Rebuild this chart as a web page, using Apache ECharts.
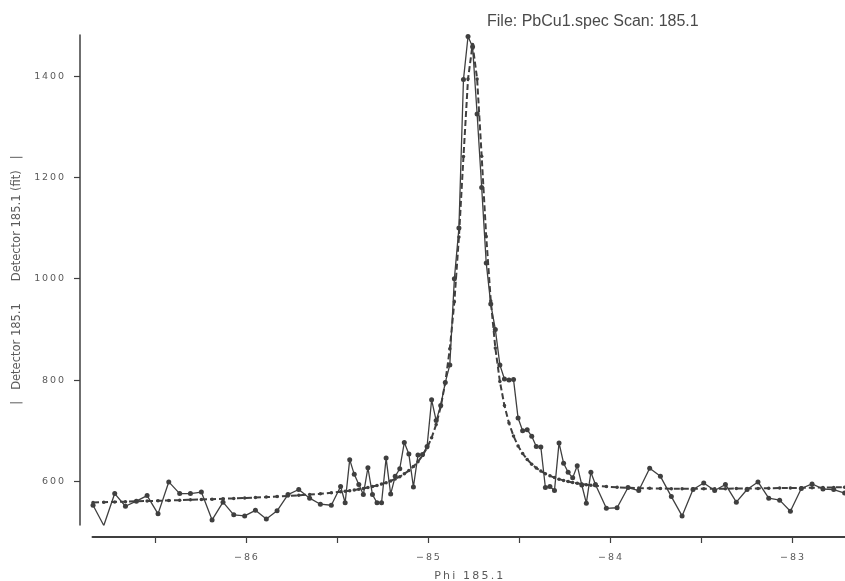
<!DOCTYPE html>
<html>
<head>
<meta charset="utf-8">
<script src="https://cdn.jsdelivr.net/npm/echarts@6/dist/echarts.min.js"></script>
<style>
  html, body { margin: 0; padding: 0; background: #fff; }
  #scan { width: 845px; height: 581px; }
</style>
</head>
<body>
<div id="scan"></div>
<script>
// Phi positions: coarse tails, fine steps across the peak
var phi = [
  -86.840, -86.781, -86.721, -86.662, -86.602, -86.543, -86.483, -86.424, -86.364, -86.305,
  -86.245, -86.186, -86.126, -86.067, -86.007, -85.948, -85.888, -85.829, -85.769, -85.710,
  -85.650, -85.591, -85.531,
  -85.480, -85.455, -85.430, -85.405, -85.380, -85.355, -85.330, -85.305, -85.280, -85.255,
  -85.230, -85.205, -85.180, -85.155, -85.130, -85.105, -85.080, -85.055, -85.030, -85.005,
  -84.980, -84.955, -84.930, -84.905, -84.880, -84.855, -84.830, -84.805, -84.780, -84.755,
  -84.730, -84.705, -84.680, -84.655, -84.630, -84.605, -84.580, -84.555, -84.530, -84.505,
  -84.480, -84.455, -84.430, -84.405, -84.380, -84.355, -84.330, -84.305, -84.280, -84.255,
  -84.230, -84.205, -84.180, -84.155, -84.130, -84.105, -84.080,
  -84.020, -83.961, -83.901, -83.842, -83.782, -83.723, -83.663, -83.604, -83.544, -83.485,
  -83.425, -83.366, -83.306, -83.247, -83.187, -83.128, -83.068, -83.009, -82.949, -82.890,
  -82.830, -82.771, -82.711
];

// measured counts
var detector = [
  553, 513, 576, 551, 561, 572, 536, 599, 576, 576,
  579, 524, 559, 534, 532, 543, 526, 542, 574, 584,
  567, 555, 553,
  590, 558, 643, 614, 594, 574, 627, 574, 558, 558,
  646, 575, 610, 625, 677, 654, 589, 652, 653, 669,
  761, 720, 750, 795, 830, 1000, 1100, 1393, 1478, 1458,
  1325, 1180, 1031, 950, 900, 830, 802, 800, 801, 725,
  700, 702, 689, 669, 668, 588, 590, 582, 676, 636,
  618, 607, 631, 593, 557, 618, 594,
  547, 548, 588, 582, 626, 610, 570, 532, 584, 597,
  582, 594, 559, 584, 599, 567, 563, 541, 586, 595,
  585, 584, 577
];

// fitted curve
var detectorFit = [
  558.5, 559.1, 559.6, 560.1, 560.7, 561.3, 561.8, 562.4, 563.0, 563.7,
  564.3, 565.0, 565.8, 566.5, 567.3, 568.2, 569.1, 570.2, 571.3, 572.5,
  574.0, 575.6, 577.5,
  579.5, 580.6, 581.7, 583.1, 584.5, 586.1, 587.9, 589.8, 592.1, 594.7,
  597.6, 601.0, 604.8, 609.4, 614.9, 621.4, 629.3, 638.9, 651.1, 666.4,
  686.2, 712.3, 747.3, 795.1, 861.7, 954.8, 1082.2, 1241.0, 1394.0, 1462.1,
  1394.4, 1241.7, 1083.3, 956.3, 863.5, 797.3, 749.8, 715.2, 689.5, 670.0,
  655.1, 643.3, 634.0, 626.5, 620.4, 615.2, 611.0, 607.5, 604.5, 602.0,
  599.8, 597.8, 596.2, 594.8, 593.6, 592.6, 591.5,
  589.8, 588.4, 587.4, 586.8, 586.3, 585.9, 585.7, 585.6, 585.5, 585.5,
  585.6, 585.7, 585.9, 586.1, 586.2, 586.5, 586.8, 587.0, 587.3, 587.6,
  587.9, 588.2, 588.6
];

var yTicks = [600, 800, 1000, 1200, 1400];
var xTicks = [-86.5, -86, -85.5, -85, -84.5, -84, -83.5, -83];
var xLabels = [-86, -85, -84, -83];

var ink = '#3f3f3f';
var textInk = '#5a5a5a';

function spaced(s) {
  return String(s).split('').join('\u2009');
}

(function(){
  var chart = echarts.init(document.getElementById('scan'));

  var dataPts = phi.map(function(x, i){ return [x, detector[i]]; });
  var fitPts = phi.map(function(x, i){ return [x, detectorFit[i]]; });

  var option = {
    animation: false,
    backgroundColor: '#ffffff',
    title: {
      text: 'File: PbCu1.spec Scan: 185.1',
      left: 482,
      top: 9,
      textStyle: { fontFamily: 'Liberation Sans', fontSize: 16, fontWeight: 'normal', color: '#4a4a4a' }
    },
    grid: { left: 92.5, right: 0, top: 35, bottom: 56, outerBoundsMode: 'none', containLabel: false },
    xAxis: {
      type: 'value',
      min: -86.843,
      max: -82.709,
      offset: 12,
      name: spaced('Phi 185.1'),
      nameLocation: 'middle',
      nameGap: 34,
      nameTextStyle: { fontFamily: 'DejaVu Sans', fontSize: 11, color: textInk },
      axisLine: { onZero: false, lineStyle: { color: ink, width: 2 } },
      axisTick: { customValues: xTicks, length: 6, lineStyle: { color: ink, width: 1.2 } },
      axisLabel: {
        customValues: xLabels,
        margin: 16,
        fontFamily: 'DejaVu Sans',
        fontSize: 9.5,
        color: textInk,
        formatter: function(v){ return spaced('\u2212' + Math.abs(v)); }
      },
      splitLine: { show: false }
    },
    yAxis: {
      type: 'value',
      min: 514,
      max: 1481,
      offset: 12.5,
      name: '|   Detector 185.1      Detector 185.1 (fit)   |',
      nameLocation: 'middle',
      nameRotate: 90,
      nameGap: 56,
      nameTextStyle: { fontFamily: 'DejaVu Sans', fontSize: 11.5, color: textInk },
      axisLine: { show: true, lineStyle: { color: ink, width: 1.5 } },
      axisTick: { customValues: yTicks, length: 6, lineStyle: { color: ink, width: 1.2 } },
      axisLabel: {
        customValues: yTicks,
        margin: 16,
        fontFamily: 'DejaVu Sans',
        fontSize: 9.5,
        color: textInk,
        formatter: function(v){ return spaced(v); }
      },
      splitLine: { show: false }
    },
    series: [
      {
        name: 'Detector 185.1 (fit)',
        type: 'line',
        data: fitPts,
        symbol: 'circle',
        symbolSize: 3.5,
        itemStyle: { color: ink },
        lineStyle: { color: ink, width: 2, type: [6, 3] },
        z: 2
      },
      {
        name: 'Detector 185.1',
        type: 'line',
        data: dataPts,
        symbol: 'circle',
        symbolSize: 5,
        itemStyle: { color: ink },
        lineStyle: { color: ink, width: 1.3 },
        z: 3
      }
    ]
  };

  chart.setOption(option);
})();
</script>
</body>
</html>
